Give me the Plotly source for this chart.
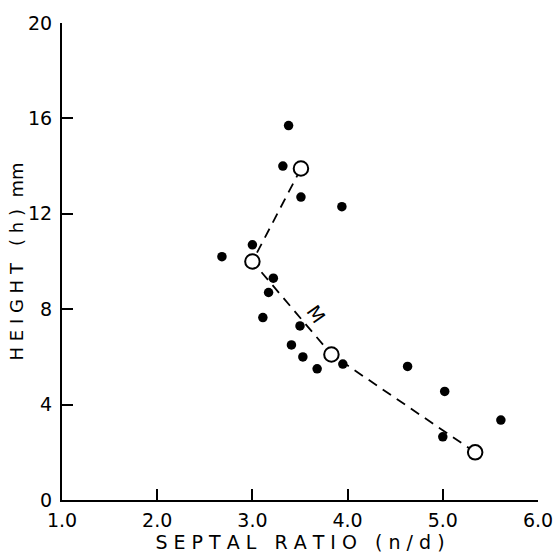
import plotly.graph_objects as go

# Individual specimens: septal ratio (n/d) vs height (h, mm)
ratio = [3.38, 3.32, 3.51, 3.94, 3.00, 2.68, 3.22, 3.17, 3.11, 3.50,
         3.41, 3.53, 3.68, 3.95, 4.63, 5.02, 5.61, 5.00]
height = [15.7, 14.0, 12.7, 12.3, 10.7, 10.2, 9.3, 8.7, 7.65, 7.3,
          6.5, 6.0, 5.5, 5.7, 5.6, 4.55, 3.35, 2.65]

# Mean values joined by the dashed trend line
mean_ratio = [3.51, 3.00, 3.83, 5.34]
mean_height = [13.9, 10.0, 6.1, 2.0]

x_ticks = [1.0, 2.0, 3.0, 4.0, 5.0, 6.0]
x_tick_text = ["1.0", "2.0", "3.0", "4.0", "5.0", "6.0"]
y_ticks = [0, 4, 8, 12, 16, 20]

FONT = "DejaVu Sans"
SP = "&nbsp;"

x_title = (SP * 3).join(SP.join(list(w)) for w in ["SEPTAL", "RATIO", "(n/d)"])
y_title = (SP * 3).join(SP.join(list(w)) for w in ["HEIGHT", "(h)"]) + SP * 2 + "mm"

fig = go.Figure()

fig.add_trace(go.Scatter(
    x=mean_ratio, y=mean_height, mode="lines",
    line=dict(color="black", width=1.8, dash="10px,7px"),
    hoverinfo="skip", showlegend=False,
))
fig.add_trace(go.Scatter(
    x=ratio, y=height, mode="markers",
    marker=dict(color="black", size=9.5),
    showlegend=False,
))
fig.add_trace(go.Scatter(
    x=mean_ratio, y=mean_height, mode="markers",
    marker=dict(color="white", size=14.5, line=dict(color="black", width=2)),
    showlegend=False,
))

fig.add_annotation(
    x=3.67, y=7.8, text="M", showarrow=False, textangle=55,
    font=dict(family=FONT, size=19, color="black"),
)

fig.update_layout(
    width=557, height=556,
    margin=dict(l=62, r=19, t=23, b=56),
    paper_bgcolor="white", plot_bgcolor="white",
    font=dict(family=FONT, size=19, color="black"),
    xaxis=dict(
        range=[1.0, 6.0], tickvals=x_ticks, ticktext=x_tick_text,
        showgrid=False, zeroline=False, showline=True,
        linecolor="black", linewidth=2,
        ticks="inside", ticklen=11, tickwidth=2, tickcolor="black",
        ticklabelstandoff=2, automargin=False,
        title=dict(text=x_title, font=dict(size=19), standoff=2),
    ),
    yaxis=dict(
        range=[0, 20], tickvals=y_ticks,
        showgrid=False, zeroline=False, showline=True,
        linecolor="black", linewidth=2,
        ticks="inside", ticklen=11, tickwidth=2, tickcolor="black",
        ticklabelstandoff=4, automargin=False,
        title=dict(text=y_title, font=dict(size=18), standoff=0),
    ),
)

fig.write_html("out.html")
